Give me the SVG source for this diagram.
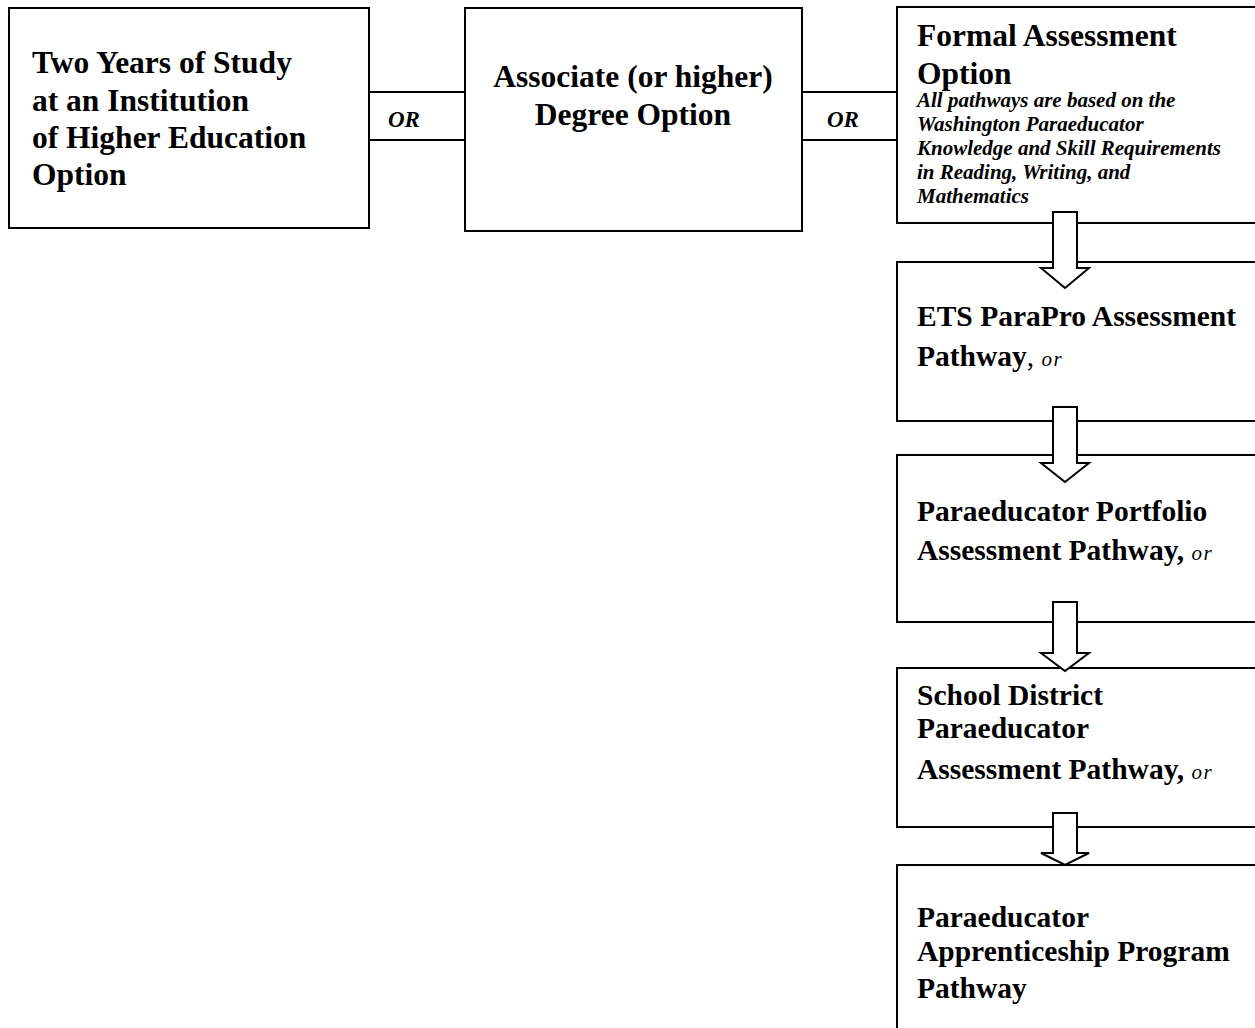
<svg xmlns="http://www.w3.org/2000/svg" width="1255" height="1028" viewBox="0 0 1255 1028">
<style>
.box{fill:#fff;stroke:#000;stroke-width:2}
.t{font-family:"Liberation Serif","Times New Roman",serif;font-weight:bold;fill:#000}
.big{font-size:31.5px}
.mid{font-size:29.5px}
.it{font-family:"Liberation Serif","Times New Roman",serif;font-weight:bold;font-style:italic;font-size:21px;fill:#000}
.or{font-family:"Liberation Serif","Times New Roman",serif;font-weight:bold;font-style:italic;font-size:23px;fill:#000}
.sm{font-weight:normal;font-style:italic;font-size:21px;letter-spacing:1.5px}
.ln{stroke:#000;stroke-width:2;fill:none}
.arr{fill:#fff;stroke:#000;stroke-width:2;stroke-linejoin:miter}
</style>
<rect width="1255" height="1028" fill="#fff"/>
<g id="node-two-years">
<rect class="box" x="9" y="8" width="360" height="220"/>
<text class="t big" x="32" y="73">Two Years of Study</text>
<text class="t big" x="32" y="111">at an Institution</text>
<text class="t big" x="32" y="148">of Higher Education</text>
<text class="t big" x="32" y="185">Option</text>
</g>
<g id="node-associate">
<rect class="box" x="465" y="8" width="337" height="223"/>
<text class="t big" x="633" y="87" text-anchor="middle">Associate (or higher)</text>
<text class="t big" x="633" y="125" text-anchor="middle">Degree Option</text>
</g>
<g id="node-formal">
<rect class="box" x="897" y="7" width="380" height="216"/>
<text class="t big" x="917" y="46">Formal Assessment</text>
<text class="t big" x="917" y="84">Option</text>
<text class="it" x="917" y="107">All pathways are based on the</text>
<text class="it" x="917" y="131">Washington Paraeducator</text>
<text class="it" x="917" y="155">Knowledge and Skill Requirements</text>
<text class="it" x="917" y="179">in Reading, Writing, and</text>
<text class="it" x="917" y="203">Mathematics</text>
</g>
<g id="node-ets">
<rect class="box" x="897" y="262" width="380" height="159"/>
<text class="t mid" x="917" y="326">ETS ParaPro Assessment</text>
<text class="t mid" x="917" y="366">Pathway<tspan font-weight="normal">,</tspan> <tspan class="sm">or</tspan></text>
</g>
<g id="node-portfolio">
<rect class="box" x="897" y="455" width="380" height="167"/>
<text class="t mid" x="917" y="521">Paraeducator Portfolio</text>
<text class="t mid" x="917" y="560">Assessment Pathway, <tspan class="sm">or</tspan></text>
</g>
<g id="node-district">
<rect class="box" x="897" y="668" width="380" height="159"/>
<text class="t mid" x="917" y="705">School District</text>
<text class="t mid" x="917" y="738">Paraeducator</text>
<text class="t mid" x="917" y="779">Assessment Pathway, <tspan class="sm">or</tspan></text>
</g>
<g id="node-apprenticeship">
<rect class="box" x="897" y="865" width="380" height="200"/>
<text class="t mid" x="917" y="927">Paraeducator</text>
<text class="t mid" x="917" y="961">Apprenticeship Program</text>
<text class="t mid" x="917" y="998">Pathway</text>
</g>
<g id="connectors">
<line class="ln" x1="369" y1="92" x2="465" y2="92"/>
<line class="ln" x1="369" y1="140" x2="465" y2="140"/>
<text class="or" x="388" y="127">OR</text>
<line class="ln" x1="802" y1="92" x2="897" y2="92"/>
<line class="ln" x1="802" y1="140" x2="897" y2="140"/>
<text class="or" x="827" y="127">OR</text>
<polygon class="arr" points="1053,212 1077,212 1077,268 1089,268 1065,288 1041,268 1053,268"/>
<polygon class="arr" points="1053,407 1077,407 1077,463 1089,463 1065,482 1041,463 1053,463"/>
<polygon class="arr" points="1053,602 1077,602 1077,653 1089,653 1065,671 1041,653 1053,653"/>
<polygon class="arr" points="1053,813 1077,813 1077,853 1089,853 1065,865 1041,853 1053,853"/>
</g>
</svg>
